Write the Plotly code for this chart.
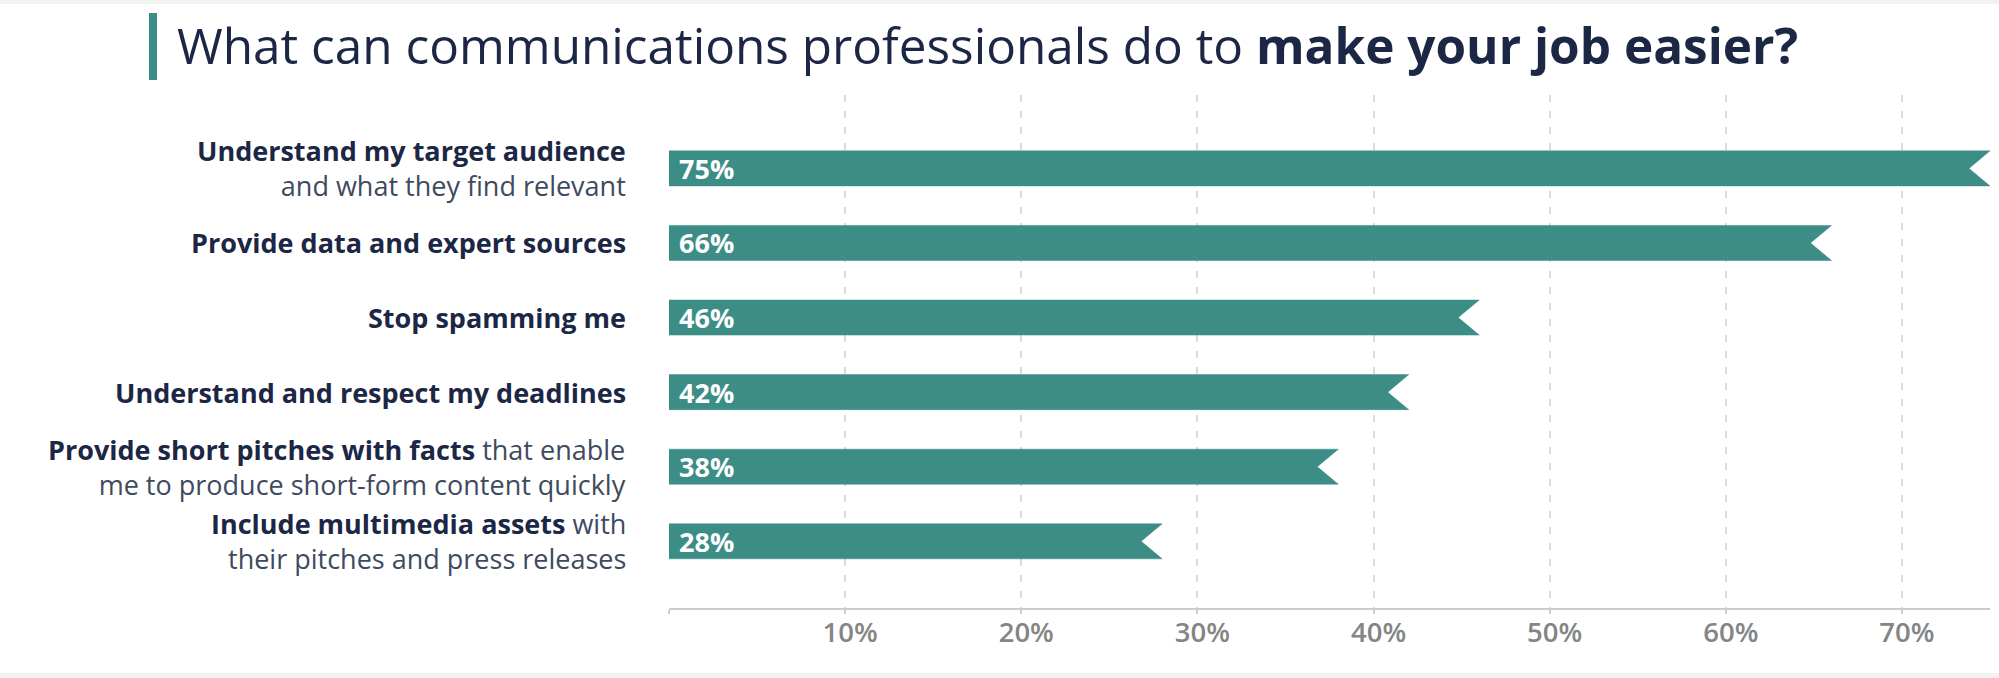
import plotly.graph_objects as go

# ---- data ----
labels = [
    "<b>Understand my target audience</b><br>and what they find relevant",
    "<b>Provide data and expert sources</b>",
    "<b>Stop spamming me</b>",
    "<b>Understand and respect my deadlines</b>",
    "<b>Provide short pitches with facts</b> that enable<br>me to produce short-form content quickly",
    "<b>Include multimedia assets</b> with<br>their pitches and press releases",
]
values = [75, 66, 46, 42, 38, 28]
tick_vals = [10, 20, 30, 40, 50, 60, 70]
tick_labels = ["10%", "20%", "30%", "40%", "50%", "60%", "70%"]
title_plain = "What can communications professionals do to "
title_bold = "make your job easier?"

# ---- style / layout constants ----
W, H = 1999, 678
ML, MR, MT, MB = 669, 9, 95, 70
XMAX = 75
PW, PH = W - ML - MR, H - MT - MB
Y_TOP, Y_BOT = -0.984, 5.894
BAR_HALF = 0.235
NOTCH = 1.19
TEAL = "#3c8d85"
DARK = "#1c2745"
REG = "#3e4a5e"
FONT = "Open Sans"

def px_x(p):
    return (p - ML) / PW

def px_y(p):
    return (H - MB - p) / PH

fig = go.Figure()

# bars as notched ribbons
xs, ys = [], []
for i, v in enumerate(values):
    t, b = i - BAR_HALF, i + BAR_HALF
    xs += [0, v, v - NOTCH, v, 0, 0, None]
    ys += [t, t, i, b, b, t, None]
fig.add_trace(go.Scatter(
    x=xs, y=ys, mode="lines", fill="toself", fillcolor=TEAL,
    line=dict(color=TEAL, width=0.5), hoverinfo="skip", showlegend=False,
))

annotations = []
# value labels inside bars
for i, v in enumerate(values):
    annotations.append(dict(
        x=0, y=i, xref="x", yref="y", text=f"<b>{v}%</b>", showarrow=False,
        xanchor="left", yanchor="middle", xshift=8,
        font=dict(family=FONT, size=27, color="white"),
    ))

# category labels
for i, lab in enumerate(labels):
    txt = lab.replace("<b>", f"<b><span style='color:{DARK}'>").replace("</b>", "</span></b>")
    annotations.append(dict(
        x=0, y=i, xref="x", yref="y", text=txt, showarrow=False,
        xanchor="right", yanchor="middle", align="right", xshift=-42,
        borderpad=0,
        font=dict(family=FONT, size=27, color=REG),
    ))

# title
annotations.append(dict(
    x=px_x(175), y=px_y(45), xref="paper", yref="paper",
    text=f"{title_plain}<b>{title_bold}</b>", showarrow=False,
    xanchor="left", yanchor="middle",
    font=dict(family=FONT, size=49.5, color=DARK),
))

shapes = [
    dict(type="rect", xref="paper", yref="paper",
         x0=px_x(149), x1=px_x(157), y0=px_y(80), y1=px_y(13),
         fillcolor=TEAL, line=dict(width=0)),
    dict(type="rect", xref="paper", yref="paper",
         x0=px_x(0), x1=px_x(W), y0=px_y(4), y1=px_y(0),
         fillcolor="#f2f2f2", line=dict(width=0), layer="below"),
    dict(type="rect", xref="paper", yref="paper",
         x0=px_x(0), x1=px_x(W), y0=px_y(H), y1=px_y(673),
         fillcolor="#f2f2f2", line=dict(width=0), layer="below"),
]

fig.update_layout(
    width=W, height=H,
    margin=dict(l=ML, r=MR, t=MT, b=MB),
    paper_bgcolor="white", plot_bgcolor="white",
    showlegend=False,
    annotations=annotations, shapes=shapes,
    xaxis=dict(
        range=[0, XMAX], tickvals=[0] + tick_vals, ticktext=[""] + tick_labels,
        showgrid=True, gridcolor="#dadada", gridwidth=1.5, griddash="7px,9px",
        zeroline=False, showline=True, linecolor="#cccccc", linewidth=1.5,
        ticks="outside", ticklen=4, tickcolor="#cccccc", tickwidth=1.5,
        tickfont=dict(family=FONT, size=27.5, color="#858585", weight=600),
        ticklabelshift=5, ticklabelstandoff=-5, fixedrange=True,
    ),
    yaxis=dict(
        range=[Y_BOT, Y_TOP], showgrid=False, zeroline=False,
        showticklabels=False, fixedrange=True,
    ),
)

fig.write_html(
    "out.html",
    config={"displayModeBar": False},
    post_script="document.body.style.margin='0';document.body.style.overflow='hidden';",
)
